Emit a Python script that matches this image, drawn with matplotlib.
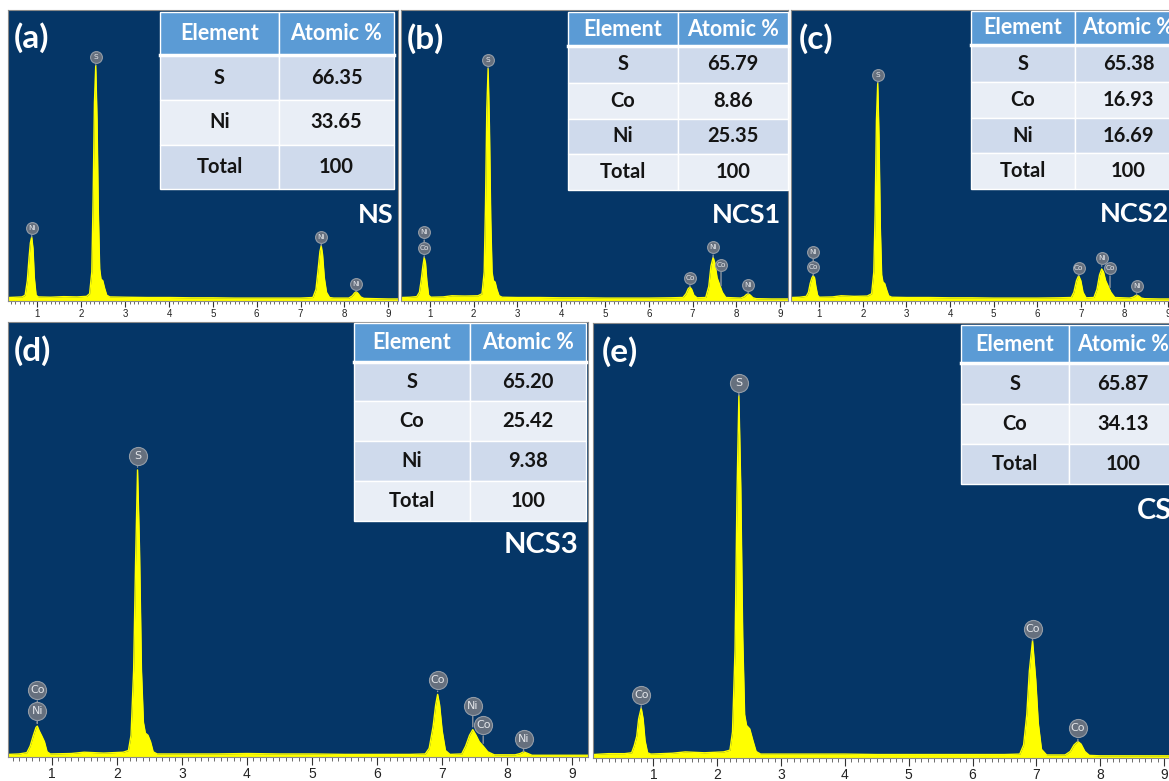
import matplotlib.pyplot as plt
import numpy as np
from matplotlib.ticker import MultipleLocator, FixedLocator
from matplotlib.transforms import offset_copy
from matplotlib.patches import Rectangle

# ---- EDS spectra (energy in keV, intensity as fraction of panel height) ----
a_E = [0.33, 0.50, 0.65, 0.72, 0.77, 0.81, 0.84, 0.87, 0.90, 0.93, 0.97, 1.02, 1.3, 1.6, 1.9, 2.12,
       2.19, 2.24, 2.27, 2.30, 2.33, 2.36, 2.39, 2.42, 2.45, 2.49, 2.53, 2.58, 2.65, 3.0, 3.5, 4.0,
       4.5, 5.0, 5.5, 6.0, 6.5, 7.0, 7.28, 7.35, 7.40, 7.44, 7.47, 7.50, 7.54, 7.59, 7.66, 7.75,
       8.10, 8.18, 8.23, 8.27, 8.31, 8.37, 8.44, 8.7, 9.0, 9.22]
a_I = [0.012, 0.013, 0.014, 0.02, 0.07, 0.15, 0.20, 0.22, 0.18, 0.08, 0.02, 0.014, 0.013, 0.015, 0.014, 0.016,
       0.025, 0.10, 0.35, 0.68, 0.81, 0.62, 0.30, 0.11, 0.075, 0.07, 0.045, 0.02, 0.014, 0.013, 0.012, 0.012,
       0.011, 0.011, 0.010, 0.010, 0.010, 0.010, 0.012, 0.04, 0.11, 0.17, 0.19, 0.16, 0.08, 0.03, 0.012, 0.010,
       0.010, 0.018, 0.028, 0.032, 0.026, 0.014, 0.009, 0.008, 0.007, 0.007]

b_E = [0.34, 0.55, 0.70, 0.76, 0.80, 0.84, 0.87, 0.90, 0.93, 0.97, 1.02, 1.3, 1.5, 1.8, 2.1, 2.19,
       2.24, 2.27, 2.30, 2.33, 2.36, 2.39, 2.42, 2.45, 2.49, 2.53, 2.58, 2.65, 3.0, 3.5, 4.0, 4.5,
       5.0, 5.5, 6.0, 6.5, 6.78, 6.85, 6.90, 6.94, 6.98, 7.03, 7.10, 7.30, 7.37, 7.42, 7.47, 7.51,
       7.56, 7.62, 7.68, 7.76, 8.10, 8.18, 8.23, 8.27, 8.32, 8.38, 8.45, 8.8, 9.18]
b_I = [0.012, 0.013, 0.015, 0.03, 0.07, 0.12, 0.15, 0.13, 0.07, 0.02, 0.013, 0.014, 0.018, 0.017, 0.018, 0.025,
       0.10, 0.33, 0.66, 0.80, 0.60, 0.28, 0.10, 0.07, 0.065, 0.04, 0.018, 0.013, 0.012, 0.012, 0.011, 0.011,
       0.010, 0.010, 0.010, 0.011, 0.012, 0.025, 0.042, 0.048, 0.040, 0.02, 0.011, 0.012, 0.05, 0.12, 0.15, 0.13,
       0.08, 0.055, 0.03, 0.012, 0.010, 0.015, 0.022, 0.025, 0.02, 0.011, 0.008, 0.007, 0.007]

c_E = [0.35, 0.55, 0.70, 0.75, 0.79, 0.83, 0.86, 0.89, 0.92, 0.96, 1.0, 1.3, 1.5, 1.8, 2.1, 2.20,
       2.25, 2.28, 2.31, 2.34, 2.37, 2.40, 2.43, 2.46, 2.50, 2.54, 2.59, 2.66, 3.0, 3.5, 4.0, 4.5,
       5.0, 5.5, 6.0, 6.5, 6.78, 6.84, 6.90, 6.95, 7.00, 7.05, 7.12, 7.30, 7.37, 7.43, 7.48, 7.52,
       7.57, 7.63, 7.69, 7.78, 8.12, 8.20, 8.25, 8.28, 8.33, 8.39, 8.46, 8.8, 9.23]
c_I = [0.012, 0.013, 0.016, 0.03, 0.06, 0.08, 0.087, 0.08, 0.05, 0.02, 0.013, 0.014, 0.018, 0.016, 0.017, 0.025,
       0.10, 0.30, 0.62, 0.75, 0.56, 0.25, 0.09, 0.065, 0.06, 0.04, 0.018, 0.013, 0.012, 0.012, 0.011, 0.011,
       0.010, 0.010, 0.010, 0.011, 0.012, 0.03, 0.07, 0.087, 0.07, 0.03, 0.011, 0.012, 0.04, 0.09, 0.11, 0.10,
       0.07, 0.05, 0.03, 0.012, 0.010, 0.013, 0.018, 0.02, 0.017, 0.010, 0.008, 0.007, 0.007]

d_E = [0.33, 0.50, 0.62, 0.67, 0.72, 0.76, 0.78, 0.81, 0.85, 0.89, 0.93, 0.98, 1.3, 1.5, 1.8, 2.1,
       2.18, 2.22, 2.26, 2.29, 2.32, 2.35, 2.38, 2.41, 2.44, 2.48, 2.52, 2.56, 2.62, 3.0, 3.5, 4.0,
       4.5, 5.0, 5.5, 6.0, 6.5, 6.74, 6.80, 6.86, 6.90, 6.93, 6.96, 7.00, 7.05, 7.12, 7.30, 7.36,
       7.42, 7.47, 7.52, 7.57, 7.63, 7.70, 7.80, 8.12, 8.20, 8.25, 8.30, 8.38, 8.7, 9.24]
d_I = [0.006, 0.007, 0.010, 0.025, 0.05, 0.068, 0.071, 0.06, 0.048, 0.035, 0.012, 0.007, 0.008, 0.011, 0.009, 0.011,
       0.015, 0.05, 0.20, 0.45, 0.66, 0.48, 0.20, 0.08, 0.055, 0.05, 0.035, 0.012, 0.007, 0.007, 0.007, 0.008,
       0.007, 0.007, 0.006, 0.006, 0.006, 0.007, 0.02, 0.07, 0.12, 0.144, 0.12, 0.06, 0.015, 0.006, 0.007, 0.025,
       0.05, 0.063, 0.05, 0.035, 0.025, 0.012, 0.005, 0.005, 0.008, 0.012, 0.009, 0.004, 0.004, 0.004]

e_E = [0.055, 0.3, 0.55, 0.66, 0.70, 0.74, 0.77, 0.81, 0.84, 0.87, 0.91, 0.96, 1.3, 1.5, 1.8, 2.1,
       2.20, 2.24, 2.28, 2.31, 2.34, 2.37, 2.40, 2.43, 2.46, 2.51, 2.56, 2.61, 2.68, 3.0, 3.5, 4.0,
       4.5, 5.0, 5.5, 6.0, 6.5, 6.74, 6.80, 6.85, 6.89, 6.94, 6.99, 7.03, 7.08, 7.16, 7.45, 7.53,
       7.59, 7.65, 7.70, 7.76, 7.83, 8.0, 8.5, 9.25]
e_I = [0.008, 0.010, 0.010, 0.012, 0.028, 0.05, 0.09, 0.115, 0.09, 0.04, 0.012, 0.009, 0.011, 0.014, 0.012, 0.014,
       0.018, 0.06, 0.25, 0.60, 0.833, 0.62, 0.28, 0.10, 0.075, 0.067, 0.04, 0.015, 0.009, 0.009, 0.009, 0.009,
       0.008, 0.008, 0.008, 0.008, 0.008, 0.009, 0.03, 0.10, 0.20, 0.27, 0.18, 0.08, 0.02, 0.007, 0.007, 0.015,
       0.03, 0.038, 0.032, 0.015, 0.006, 0.005, 0.005, 0.005]

# peak tags: element, energy (keV)
a_tag_el = ['S', 'Ni', 'Ni', 'Ni']
a_tag_E = [2.33, 0.87, 7.47, 8.27]
b_tag_el = ['S', 'Co', 'Ni', 'Co', 'Ni', 'Co', 'Ni']
b_tag_E = [2.33, 0.87, 0.87, 6.94, 7.47, 7.65, 8.27]
c_tag_el = ['S', 'Co', 'Ni', 'Co', 'Ni', 'Co', 'Ni']
c_tag_E = [2.34, 0.86, 0.86, 6.95, 7.48, 7.67, 8.28]
d_tag_el = ['S', 'Ni', 'Co', 'Co', 'Ni', 'Co', 'Ni']
d_tag_E = [2.32, 0.78, 0.78, 6.93, 7.47, 7.63, 8.25]
e_tag_el = ['Co', 'S', 'Co', 'Co']
e_tag_E = [0.81, 2.34, 6.94, 7.65]

# composition tables
a_elem = ['S', 'Ni', 'Total']
a_pct = ['66.35', '33.65', '100']
b_elem = ['S', 'Co', 'Ni', 'Total']
b_pct = ['65.79', '8.86', '25.35', '100']
c_elem = ['S', 'Co', 'Ni', 'Total']
c_pct = ['65.38', '16.93', '16.69', '100']
d_elem = ['S', 'Co', 'Ni', 'Total']
d_pct = ['65.20', '25.42', '9.38', '100']
e_elem = ['S', 'Co', 'Total']
e_pct = ['65.87', '34.13', '100']

letters = ['(a)', '(b)', '(c)', '(d)', '(e)']
samples = ['NS', 'NCS1', 'NCS2', 'NCS3', 'CS']

# ---- layout (pixels) ----
W, H = 1169, 781
NAVY = '#053667'
YELLOW = '#ffff00'
HEAD = '#5b9bd5'
ROWC = ['#cfdaec', '#e9eef6']
FONT = ['Lato', 'DejaVu Sans']

fig = plt.figure(figsize=(W / 100, H / 100), dpi=100)
fig.patch.set_facecolor('white')


def box(x0, y0, x1, y1):
    return [x0 / W, 1 - y1 / H, (x1 - x0) / W, (y1 - y0) / H]


panels = [
    dict(box=(8, 10, 398, 301), xlim=(0.33, 9.22), E=a_E, I=a_I, tel=a_tag_el, tE=a_tag_E,
         toff=[8, 9, 9, 8], big=False,
         tab=([160, 279, 394], [12, 55, 100, 145, 189]), elem=a_elem, pct=a_pct,
         let=(14, 38), samp=(393, 215, 'right')),
    dict(box=(401, 10, 788, 301), xlim=(0.34, 9.18), E=b_E, I=b_I, tel=b_tag_el, tE=b_tag_E,
         toff=[8, 9, 25, 9, 10, 24, 9], big=False,
         tab=([568, 678, 788], [12, 46, 83, 119, 154, 190]), elem=b_elem, pct=b_pct,
         let=(407, 39), samp=(781, 215, 'right')),
    dict(box=(791, 10, 1178, 301), xlim=(0.35, 9.23), E=c_E, I=c_I, tel=c_tag_el, tE=c_tag_E,
         toff=[8, 9, 24, 8, 11, 22, 9], big=False,
         tab=([971, 1075, 1182], [11, 45, 82, 118, 153, 189]), elem=c_elem, pct=c_pct,
         let=(799, 39), samp=(1100, 214, 'left')),
    dict(box=(8, 322, 588, 757), xlim=(0.33, 9.24), E=d_E, I=d_I, tel=d_tag_el, tE=d_tag_E,
         toff=[14, 15, 36, 14, 24, 21, 13], big=True,
         tab=([354, 470, 586], [323, 362, 401, 441, 481, 521]), elem=d_elem, pct=d_pct,
         let=(14, 351), samp=(578, 545, 'right')),
    dict(box=(593, 323, 1180, 758), xlim=(0.055, 9.25), E=e_E, I=e_I, tel=e_tag_el, tE=e_tag_E,
         toff=[13, 13, 12, 13], big=True,
         tab=([961, 1069, 1177], [325, 363, 404, 444, 484]), elem=e_elem, pct=e_pct,
         let=(602, 352), samp=(1137, 511, 'left')),
]

for i, p in enumerate(panels):
    ax = fig.add_axes(box(*p['box']))
    ax.set_facecolor(NAVY)
    ax.fill_between(p['E'], 0, p['I'], color=YELLOW, lw=0, zorder=2)
    ax.plot(p['E'], p['I'], color=YELLOW, lw=1.0, zorder=2)
    ax.set_xlim(*p['xlim'])
    ax.set_ylim(0, 1)
    ax.set_yticks([])
    ax.xaxis.set_major_locator(FixedLocator(range(1, 10)))
    ax.xaxis.set_minor_locator(MultipleLocator(0.1))
    big = p['big']
    ax.tick_params(axis='x', which='major', direction='out', length=6 if big else 4.5,
                   width=0.8, color='#333333', labelsize=10 if big else 7, pad=1.5,
                   labelcolor='#222222')
    ax.tick_params(axis='x', which='minor', direction='out', length=3 if big else 2.2,
                   width=0.6, color='#555555')
    for lab in ax.get_xticklabels():
        lab.set_family('Liberation Sans')
    for s in ax.spines.values():
        s.set_color('#8a8a8a')
        s.set_linewidth(0.8)

    # peak tags
    ms = 13 if big else 8.5
    fs = 8 if big else 5.3
    r = ms / 0.72 / 2
    for el, e, off in zip(p['tel'], p['tE'], p['toff']):
        h = np.interp(e, p['E'], p['I'])
        ax.annotate('', xy=(e, h), xytext=(0, off - r + 1), textcoords='offset pixels',
                    arrowprops=dict(arrowstyle='-', color='#8d96a0', lw=1.0), zorder=4)
        tr = offset_copy(ax.transData, fig=fig, x=0, y=off, units='dots')
        ax.plot([e], [h], 'o', ms=ms, mfc='#66707e', mec='#939ca7', mew=0.8,
                transform=tr, clip_on=False, zorder=5)
        ax.text(e, h, el, transform=tr, ha='center', va='center', fontsize=fs,
                color='#e4e6ea', zorder=6, family='DejaVu Sans')

    # table
    cols, rows = p['tab']
    cells = [('Element', 'Atomic %')] + list(zip(p['elem'], p['pct']))
    for ri, (c1, c2) in enumerate(cells):
        y0, y1 = rows[ri], rows[ri + 1]
        fc = HEAD if ri == 0 else ROWC[(ri - 1) % 2]
        tc = 'white' if ri == 0 else '#141414'
        for ci, txt in enumerate((c1, c2)):
            x0, x1 = cols[ci], cols[ci + 1]
            fig.add_artist(Rectangle((x0 / W, 1 - y1 / H), (x1 - x0) / W, (y1 - y0) / H,
                                     transform=fig.transFigure, fc=fc, ec='white', lw=1.0,
                                     zorder=10))
            fig.text((x0 + x1) / 2 / W, 1 - (y0 + y1) / 2 / H, txt, ha='center', va='center',
                     fontsize=15.5 if ri == 0 else 14.5, fontweight='bold', color=tc,
                     family=FONT, zorder=11)
    yh = rows[1]
    fig.add_artist(plt.Line2D([cols[0] / W, cols[-1] / W], [1 - yh / H, 1 - yh / H],
                              transform=fig.transFigure, color='white', lw=2.5, zorder=12))

    # panel letter and sample name
    lx, ly = p['let']
    fig.text(lx / W, 1 - ly / H, letters[i], ha='left', va='center', fontsize=24,
             fontweight='bold', color='white', family=FONT, zorder=11)
    sx, sy, ha = p['samp']
    fig.text(sx / W, 1 - sy / H, samples[i], ha=ha, va='center', fontsize=21 if big else 19.5,
             fontweight='bold', color='white', family=FONT, zorder=11)

fig.savefig('out.png', dpi=100, facecolor='white')
